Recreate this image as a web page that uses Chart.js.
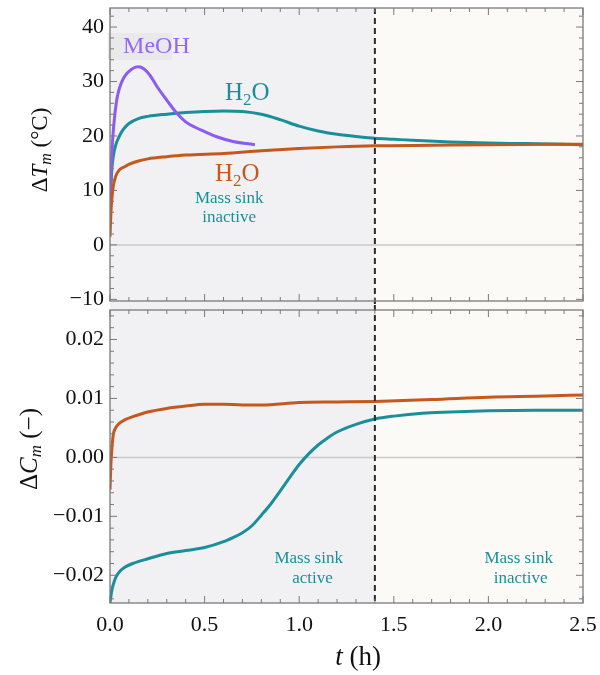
<!DOCTYPE html>
<html>
<head>
<meta charset="utf-8">
<script src="https://cdn.jsdelivr.net/npm/chart.js@4/dist/chart.umd.min.js"></script>
<style>
  html, body { margin: 0; background: #fff; }
  #wrap { position: relative; width: 600px; height: 675px; }
  canvas { position: absolute; left: 0; }
  #topChart { top: 0; }
  #bottomChart { top: 305px; }
</style>
</head>
<body>
<div id="wrap">
  <canvas id="topChart" width="600" height="305"></canvas>
  <canvas id="bottomChart" width="600" height="370"></canvas>
</div>
<script>
// switch-off time of the mass sink (h)
const switchTime = 1.4;

// tick labels
const xTicks = [0.0, 0.5, 1.0, 1.5, 2.0, 2.5];
const topYTicks = [-10, 0, 10, 20, 30, 40];
const bottomYTicks = [-0.02, -0.01, 0.00, 0.01, 0.02];

// top panel: temperature rise dT_m (degC)
const timeTopOrange = [0, 0.005, 0.01, 0.017, 0.03, 0.05, 0.08, 0.1, 0.15, 0.2, 0.3, 0.4, 0.6, 0.8, 1.0, 1.2, 1.4, 1.7, 2.0, 2.5];
const deltaTOrange  = [1.5, 6, 8.5, 10.7, 12.6, 13.8, 14.4, 14.8, 15.4, 15.8, 16.2, 16.5, 16.8, 17.3, 17.7, 18.0, 18.2, 18.3, 18.4, 18.5];

const timeTopPurple = [0, 0.005, 0.01, 0.02, 0.035, 0.05, 0.07, 0.09, 0.12, 0.15, 0.18, 0.21, 0.25, 0.3, 0.35, 0.4, 0.45, 0.5, 0.56, 0.65, 0.72, 0.766];
const deltaTPurple  = [7, 12, 17, 22, 26.5, 28.8, 30.5, 31.5, 32.4, 32.7, 32.3, 31.2, 29, 26.6, 24.3, 22.6, 21.6, 20.8, 19.9, 19.0, 18.6, 18.4];

const timeTopTeal = [0, 0.005, 0.01, 0.02, 0.03, 0.05, 0.07, 0.1, 0.15, 0.2, 0.3, 0.4, 0.5, 0.6, 0.7, 0.8, 0.9, 1.0, 1.1, 1.2, 1.3, 1.4, 1.5, 1.6, 1.8, 2.0, 2.2, 2.5];
const deltaTTeal  = [7, 11, 14, 16.8, 18.3, 20, 21.2, 22.3, 23.2, 23.6, 24, 24.3, 24.5, 24.6, 24.5, 24, 23, 21.8, 20.9, 20.3, 19.9, 19.6, 19.4, 19.2, 18.9, 18.7, 18.6, 18.4];

// bottom panel: concentration change dC_m (-)
const timeBottomOrange = [0, 0.005, 0.01, 0.017, 0.03, 0.05, 0.08, 0.12, 0.2, 0.3, 0.4, 0.5, 0.6, 0.7, 0.8, 1.0, 1.2, 1.4, 1.7, 2.0, 2.3, 2.5];
const deltaCOrange     = [-0.0055, -0.001, 0.0015, 0.0038, 0.005, 0.0058, 0.0064, 0.0069, 0.0077, 0.0083, 0.0087, 0.009, 0.009, 0.0089, 0.0089, 0.0093, 0.0094, 0.0095, 0.0098, 0.0102, 0.0104, 0.0106];

const timeBottomTeal = [0, 0.005, 0.01, 0.017, 0.03, 0.05, 0.08, 0.12, 0.2, 0.3, 0.4, 0.5, 0.6, 0.65, 0.7, 0.75, 0.8, 0.85, 0.9, 0.95, 1.0, 1.05, 1.1, 1.15, 1.2, 1.3, 1.4, 1.5, 1.65, 1.8, 2.0, 2.25, 2.5];
const deltaCTeal     = [-0.0247, -0.0235, -0.0225, -0.0216, -0.0204, -0.0194, -0.0186, -0.018, -0.0172, -0.0163, -0.0158, -0.0153, -0.0143, -0.0136, -0.0128, -0.0116, -0.0098, -0.0079, -0.0057, -0.0034, -0.0012, 0.0006, 0.0021, 0.0033, 0.0043, 0.0056, 0.0065, 0.007, 0.0075, 0.0077, 0.0079, 0.008, 0.008];

const SERIF = "'Liberation Serif', 'Times New Roman', serif";
const PURPLE = "#8c5bf0";
const TEAL = "#1a8f9a";
const ORANGE = "#c5581c";

function toPoints(xs, ys) {
    return xs.map((x, i) => ({ x, y: ys[i] }));
}

function minus(s) {
    return s.replace("-", "\u2212");
}

function line(xs, ys, color) {
    return {
        data: toPoints(xs, ys),
        borderColor: color,
        borderWidth: 3,
        pointRadius: 0,
        cubicInterpolationMode: "monotone",
        fill: false
    };
}

// draws a run of text pieces: [text, size, italic, dy]
function richText(ctx, parts, x, y, align) {
    let total = 0;
    parts.forEach(p => {
        ctx.font = `${p[2] ? "italic " : ""}${p[1]}px ${SERIF}`;
        p.w = ctx.measureText(p[0]).width;
        total += p.w;
    });
    let cx = align === "center" ? x - total / 2 : x;
    parts.forEach(p => {
        ctx.font = `${p[2] ? "italic " : ""}${p[1]}px ${SERIF}`;
        ctx.fillText(p[0], cx, y + (p[3] || 0));
        cx += p.w;
    });
}

function noPadding(s) {
    s.paddingTop = 0;
    s.paddingBottom = 0;
    s.paddingLeft = 0;
    s.paddingRight = 0;
}

const panelDecor = {
    id: "panelDecor",
    beforeDraw(chart, args, o) {
        const { ctx, chartArea: a, scales } = chart;
        const xs = scales.x.getPixelForValue(switchTime);
        const top = o.isTop ? a.top : 0;
        const bottom = o.isTop ? chart.height : a.bottom;
        ctx.save();
        ctx.fillStyle = "#f1f1f4";
        ctx.fillRect(a.left, top, xs - a.left, bottom - top);
        ctx.fillStyle = "#fbfaf7";
        ctx.fillRect(xs, top, a.right - xs, bottom - top);

        const y0 = scales.y.getPixelForValue(0);
        ctx.strokeStyle = "#c9c9c9";
        ctx.lineWidth = 1.5;
        ctx.beginPath();
        ctx.moveTo(a.left, y0);
        ctx.lineTo(a.right, y0);
        ctx.stroke();

        if (o.isTop) {
            // faint box behind the MeOH label
            ctx.fillStyle = "#e9e9ec";
            ctx.fillRect(a.left - 2, 33, 64, 27);
        }
        ctx.restore();
    },
    afterDatasetsDraw(chart, args, o) {
        const { ctx, chartArea: a, scales } = chart;
        const x = scales.x, y = scales.y;
        ctx.save();

        // dashed switch line
        const xs = x.getPixelForValue(switchTime);
        ctx.strokeStyle = "#2a2a2a";
        ctx.lineWidth = 2;
        ctx.setLineDash([6, 4]);
        ctx.beginPath();
        ctx.moveTo(xs, o.isTop ? a.top : 0);
        ctx.lineTo(xs, o.isTop ? chart.height : a.bottom);
        ctx.stroke();
        ctx.setLineDash([]);

        // frame
        ctx.strokeStyle = "#7a7a7a";
        ctx.lineWidth = 1.3;
        ctx.strokeRect(a.left, a.top, a.right - a.left, a.bottom - a.top);

        // inside ticks
        ctx.lineWidth = 1;
        ctx.beginPath();
        for (let k = 0; k <= 25; k++) {
            const px = x.getPixelForValue(k * 0.1);
            const len = k % 5 === 0 ? 7 : 4;
            ctx.moveTo(px, a.bottom); ctx.lineTo(px, a.bottom - len);
            ctx.moveTo(px, a.top); ctx.lineTo(px, a.top + len);
        }
        const kMin = Math.ceil(y.min / o.minorStep - 1e-9);
        const kMax = Math.floor(y.max / o.minorStep + 1e-9);
        for (let k = kMin; k <= kMax; k++) {
            const py = y.getPixelForValue(k * o.minorStep);
            const len = k % 5 === 0 ? 7 : 4;
            ctx.moveTo(a.left, py); ctx.lineTo(a.left + len, py);
            ctx.moveTo(a.right, py); ctx.lineTo(a.right - len, py);
        }
        ctx.stroke();

        // annotations (placed in data coordinates)
        ctx.textBaseline = "alphabetic";
        o.labels.forEach(l => {
            ctx.fillStyle = l.color;
            richText(ctx, l.parts, x.getPixelForValue(l.t), y.getPixelForValue(l.v), l.align);
        });

        // axis titles
        ctx.fillStyle = "#111";
        ctx.translate(o.yTitle.x, o.yTitle.y);
        ctx.rotate(-Math.PI / 2);
        richText(ctx, o.yTitle.parts, 0, 0, "center");
        ctx.setTransform(1, 0, 0, 1, 0, 0);
        if (o.xTitle) {
            richText(ctx, o.xTitle.parts, o.xTitle.x, o.xTitle.y, "center");
        }
        ctx.restore();
    }
};

function makePanel(id, datasets, yMin, yMax, yTicks, fmt, decor, isTop) {
    return new Chart(document.getElementById(id), {
        type: "line",
        data: { datasets },
        plugins: [panelDecor],
        options: {
            responsive: false,
            animation: false,
            layout: { padding: { left: 10, right: 17, top: isTop ? 8 : 5, bottom: 0 } },
            plugins: {
                legend: { display: false },
                tooltip: { enabled: false },
                panelDecor: Object.assign({ isTop }, decor)
            },
            scales: {
                x: {
                    type: "linear",
                    min: 0,
                    max: 2.5,
                    afterBuildTicks: s => { s.ticks = xTicks.map(v => ({ value: v })); },
                    afterFit: s => { s.height = isTop ? 4 : 72; noPadding(s); },
                    grid: { display: false, drawTicks: false },
                    border: { display: false },
                    ticks: {
                        display: !isTop,
                        maxRotation: 0,
                        padding: 9,
                        color: "#111",
                        font: { family: SERIF, size: 22 },
                        callback: v => v.toFixed(1)
                    }
                },
                y: {
                    type: "linear",
                    min: yMin,
                    max: yMax,
                    afterBuildTicks: s => { s.ticks = yTicks.map(v => ({ value: v })); },
                    afterFit: s => { s.width = 100; noPadding(s); },
                    grid: { display: false, drawTicks: false },
                    border: { display: false },
                    ticks: {
                        padding: 6,
                        color: "#111",
                        font: { family: SERIF, size: 22 },
                        callback: fmt
                    }
                }
            }
        }
    });
}

makePanel(
    "topChart",
    [
        line(timeTopOrange, deltaTOrange, ORANGE),
        line(timeTopPurple, deltaTPurple, PURPLE),
        line(timeTopTeal, deltaTTeal, TEAL)
    ],
    -10.3, 43.5, topYTicks,
    v => minus(String(v)),
    {
        minorStep: 2,
        labels: [
            { t: 0.069, v: 35.3, color: "#9468f2", align: "left", parts: [["MeOH", 24]] },
            { t: 0.608, v: 26.6, color: TEAL, align: "left", parts: [["H", 25], ["2", 17, false, 5], ["O", 25]] },
            { t: 0.555, v: 11.75, color: ORANGE, align: "left", parts: [["H", 25], ["2", 17, false, 5], ["O", 25]] },
            { t: 0.63, v: 7.7, color: TEAL, align: "center", parts: [["Mass sink", 17]] },
            { t: 0.63, v: 4.2, color: TEAL, align: "center", parts: [["inactive", 17]] }
        ],
        yTitle: { x: 47, y: 150, parts: [["\u0394", 23], ["T", 23, true], ["m", 16, true, 4], [" (\u00B0C)", 23]] }
    },
    true
);

makePanel(
    "bottomChart",
    [
        line(timeBottomOrange, deltaCOrange, ORANGE),
        line(timeBottomTeal, deltaCTeal, TEAL)
    ],
    -0.0247, 0.025, bottomYTicks,
    v => minus(v.toFixed(2)),
    {
        minorStep: 0.002,
        labels: [
            { t: 1.05, v: -0.0179, color: TEAL, align: "center", parts: [["Mass sink", 17]] },
            { t: 1.07, v: -0.0213, color: TEAL, align: "center", parts: [["active", 17]] },
            { t: 2.16, v: -0.0179, color: TEAL, align: "center", parts: [["Mass sink", 17]] },
            { t: 2.17, v: -0.0213, color: TEAL, align: "center", parts: [["inactive", 17]] }
        ],
        yTitle: { x: 37, y: 144, parts: [["\u0394", 25], ["C", 25, true], ["m", 17, true, 4], [" (\u2212)", 25]] },
        xTitle: { x: 358, y: 360, parts: [["t", 27, true], [" (h)", 27]] }
    },
    false
);
</script>
</body>
</html>
